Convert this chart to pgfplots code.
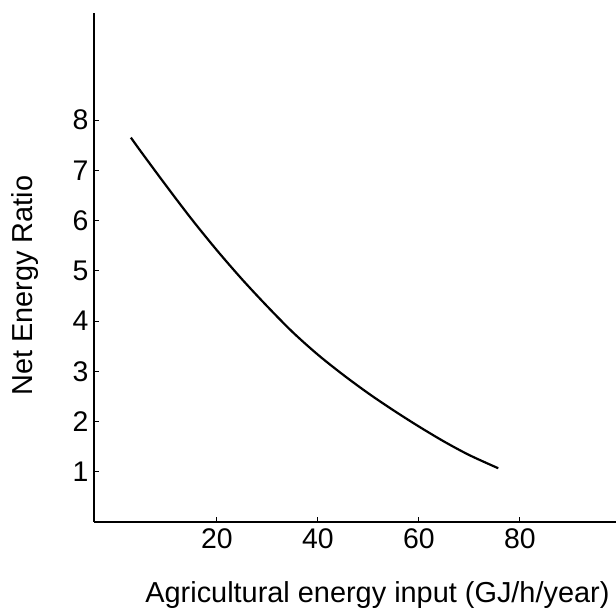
\documentclass[border=0pt]{standalone}
\usepackage{fontspec}
\setmainfont{Liberation Sans}
\usepackage{pgfplots}
\pgfplotsset{compat=1.18}
\begin{document}
\begin{tikzpicture}
\path[use as bounding box] (-94bp,-91bp) rectangle (522bp,522bp);
\begin{axis}[
  at={(0,0)}, anchor=south west,
  scale only axis,
  width=522bp, height=509bp,
  xmin=-4.3, xmax=99,
  ymin=0, ymax=10.13,
  axis x line=bottom, axis y line=left,
  axis line style={-, line width=1.3bp, black},
  xtick={20,40,60,80},
  ytick={1,2,3,4,5,6,7,8},
  tick align=inside,
  major tick length=5bp,
  tick style={line width=1bp, black},
  /pgf/number format/assume math mode=true,
  tick label style={font=\fontsize{28.5}{32}\selectfont},
  xticklabel style={yshift=-3bp},
  yticklabel style={xshift=-2bp},
  xlabel={Agricultural energy input (GJ/h/year)},
  ylabel={Net Energy Ratio},
  label style={font=\fontsize{29}{32}\selectfont},
  xlabel style={at={(axis description cs:0.543,-0.159)}, anchor=base},
  ylabel style={at={(axis description cs:-0.117,0.464)}, anchor=base},
]
\addplot[black, line width=2.2bp, smooth, no marks] coordinates {
  (3,7.65) (5,7.37) (10,6.69) (15,6.03) (20,5.41) (25,4.83) (30,4.29)
  (35,3.78) (40,3.33) (45,2.93) (50,2.56) (55,2.22) (60,1.90) (65,1.60)
  (70,1.33) (75.7,1.07)
};
\end{axis}
\end{tikzpicture}
\end{document}
